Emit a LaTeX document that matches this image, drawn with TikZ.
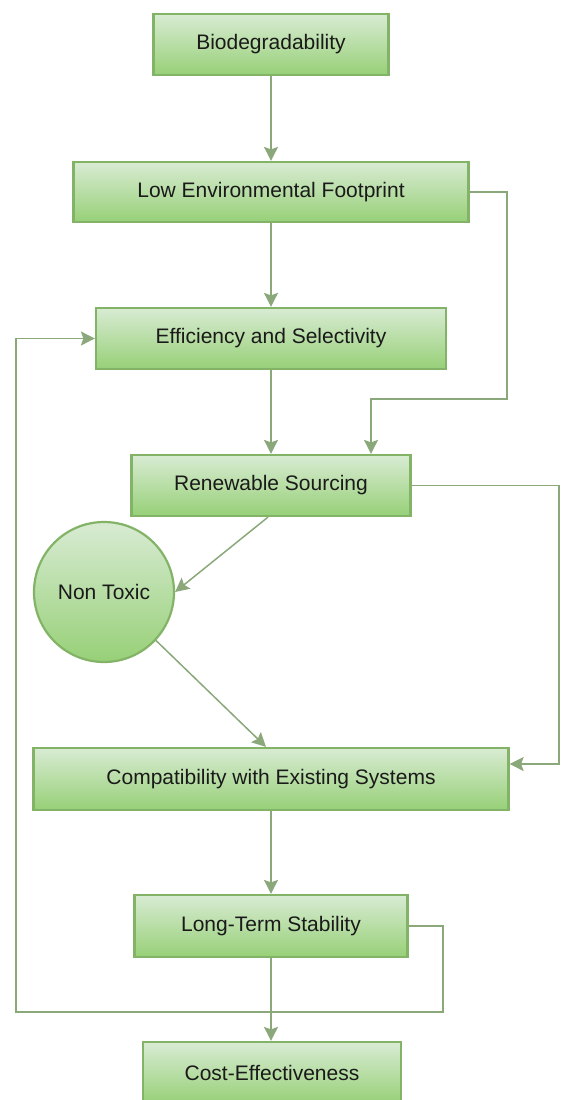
\documentclass[tikz,border=0pt]{standalone}
\usepackage{fontspec}
\setmainfont{Liberation Sans}
\usetikzlibrary{arrows.meta}
\definecolor{gtop}{HTML}{D8EBD3}
\definecolor{gbot}{HTML}{97D077}
\definecolor{gline}{HTML}{82B366}
\definecolor{cline}{HTML}{8AA87A}
\definecolor{txt}{HTML}{1A1A1A}
\tikzset{
  boxnode/.style={draw=gline, line width=2.2pt, top color=gtop, bottom color=gbot,
    rectangle, inner sep=0pt, text=txt, font=\fontsize{21}{24}\selectfont},
  circnode/.style={draw=gline, line width=2.2pt, top color=gtop, bottom color=gbot,
    circle, inner sep=0pt, minimum size=140pt, text=txt, font=\fontsize{21}{24}\selectfont},
  conn/.style={draw=cline, line width=1.5pt, -{Stealth[length=14pt,width=14pt,inset=2.5pt]}},
}
\begin{document}
\begin{tikzpicture}[x=1pt,y=-1pt]
\useasboundingbox (0,0) rectangle (560,1100);
\node[boxnode, minimum width=235pt, minimum height=61pt] (bio) at (271,44.5) {Biodegradability};
\node[boxnode, minimum width=395pt, minimum height=60pt] (lef) at (271,192) {Low Environmental Footprint};
\node[boxnode, minimum width=350pt, minimum height=61pt] (eff) at (271,338.5) {Efficiency and Selectivity};
\node[boxnode, minimum width=279pt, minimum height=61pt] (ren) at (271,485.5) {Renewable Sourcing};
\node[circnode] (nt) at (104,592) {Non Toxic};
\node[boxnode, minimum width=475pt, minimum height=62pt] (comp) at (271,779) {Compatibility with Existing Systems};
\node[boxnode, minimum width=273pt, minimum height=62pt] (lts) at (271,926) {Long-Term Stability};
\node[boxnode, minimum width=258pt, minimum height=62pt] (cost) at (272,1073) {Cost-Effectiveness};

\coordinate (c1) at (507,399);
\coordinate (c2) at (559,485.5);
\coordinate (c3) at (443,1012);
\coordinate (c4) at (16,1012);

\draw[conn] (bio.south) -- (lef.north);
\draw[conn] (lef.south) -- (eff.north);
\draw[conn] (eff.south) -- (ren.north);
\draw[conn] (lef.east) -| (c1) -| ([xshift=100pt]ren.north);
\draw[conn] (ren.east) -- (c2) |- ([yshift=15pt]comp.east);
\draw[conn] ([xshift=-3pt]ren.south) -- (nt.east);
\draw[conn] (nt.-43) -- ([xshift=-5pt]comp.north);
\draw[conn] (comp.south) -- (lts.north);
\draw[conn] (lts.south) -- (cost.north -| lts.south);
\draw[conn] (lts.east) -| (c3) -- (c4) |- (eff.west);
\end{tikzpicture}
\end{document}
